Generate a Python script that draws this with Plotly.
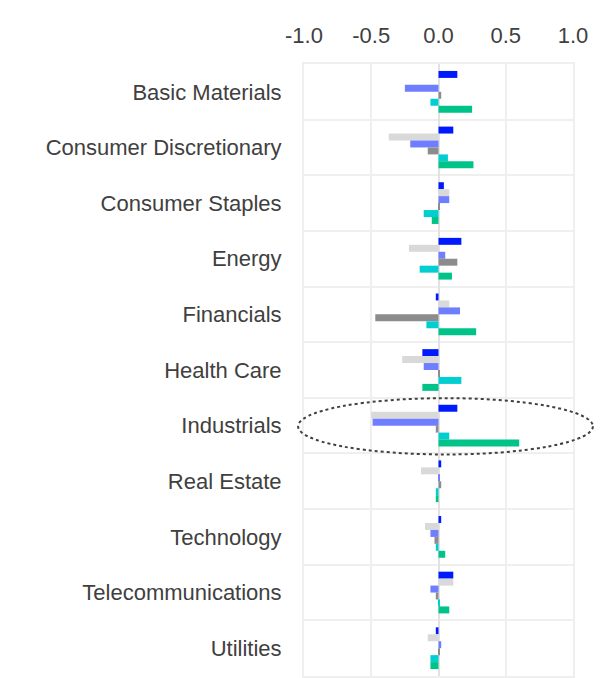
import plotly.graph_objects as go

categories = ["Basic Materials", "Consumer Discretionary", "Consumer Staples", "Energy",
              "Financials", "Health Care", "Industrials", "Real Estate", "Technology",
              "Telecommunications", "Utilities"]

series_names = ["Series 1", "Series 2", "Series 3", "Series 4", "Series 5", "Series 6"]

s1 = [0.14, 0.11, 0.04, 0.17, -0.02, -0.12, 0.14, 0.02, 0.02, 0.11, -0.02]
s2 = [0.00, -0.37, 0.08, -0.22, 0.08, -0.27, -0.50, -0.13, -0.10, 0.11, -0.08]
s3 = [-0.25, -0.21, 0.08, 0.05, 0.16, -0.11, -0.49, 0.01, -0.06, -0.06, 0.02]
s4 = [0.02, -0.08, 0.01, 0.14, -0.47, 0.01, -0.02, 0.02, -0.03, -0.02, 0.01]
s5 = [-0.06, 0.07, -0.11, -0.14, -0.09, 0.17, 0.08, -0.02, -0.02, 0.01, -0.06]
s6 = [0.25, 0.26, -0.05, 0.10, 0.28, -0.12, 0.60, -0.02, 0.05, 0.08, -0.06]

x_ticks = [-1.0, -0.5, 0.0, 0.5, 1.0]
x_tick_labels = ["-1.0", "-0.5", "0.0", "0.5", "1.0"]

colors = ["#0019FF", "#D9D9D9", "#6F7DFF", "#8C8C8C", "#00CED1", "#00C38A"]
all_series = [s1, s2, s3, s4, s5, s6]

fig = go.Figure()
for name, vals, col in zip(series_names, all_series, colors):
    fig.add_trace(go.Bar(
        y=categories, x=vals, name=name, orientation="h",
        marker=dict(color=col, line=dict(width=0)),
    ))

grid = "#EFEFEF"
fig.update_layout(
    width=612, height=678,
    margin=dict(l=296, r=47, t=56, b=8),
    barmode="group", bargap=0.25, bargroupgap=0,
    plot_bgcolor="white", paper_bgcolor="white",
    showlegend=False,
    font=dict(family="Liberation Sans, Arial, sans-serif", size=22, color="#404040"),
    xaxis=dict(
        range=[-1, 1], side="top", tickvals=x_ticks, ticktext=x_tick_labels,
        showgrid=True, gridcolor=grid, gridwidth=2,
        zeroline=True, zerolinecolor="#E2E2E2", zerolinewidth=2,
        showline=True, mirror=True, linecolor=grid, linewidth=2,
        ticks="", ticklabelstandoff=10,
    ),
    yaxis=dict(
        categoryorder="array", categoryarray=categories, autorange="reversed",
        tickson="boundaries", showgrid=True, gridcolor=grid, gridwidth=2,
        showline=True, mirror=True, linecolor=grid, linewidth=2,
        ticks="", ticklabelstandoff=16,
    ),
    shapes=[dict(
        type="circle", xref="paper", yref="y domain",
        x0=-0.022, x1=1.074, y0=0.362, y1=0.454,
        line=dict(color="#404040", width=2, dash="dot"),
        fillcolor="rgba(0,0,0,0)",
    )],
)

fig.write_html("out.html")
